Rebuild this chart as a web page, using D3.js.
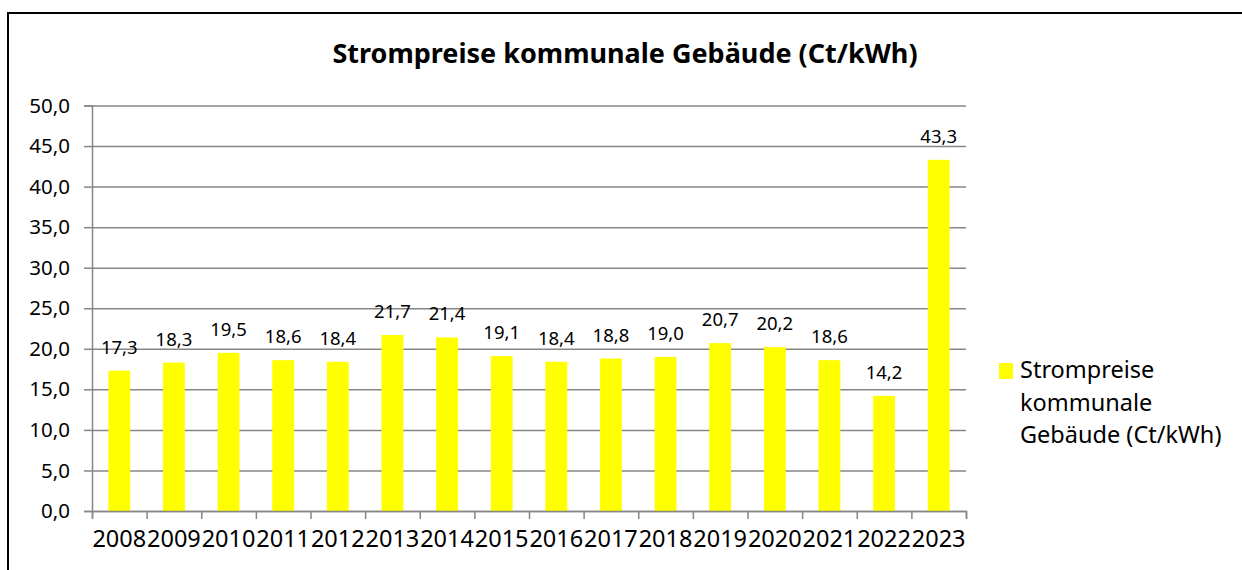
<!DOCTYPE html>
<html>
<head>
<meta charset="utf-8">
<script src="https://cdn.jsdelivr.net/npm/d3@7"></script>
<style>
  html, body { margin: 0; padding: 0; background: #fff; }
  svg { display: block; font-family: "Noto Sans", sans-serif; }
</style>
</head>
<body>
<svg id="chart"></svg>
<script>
// Daten
const jahre = ['2008','2009','2010','2011','2012','2013','2014','2015','2016','2017','2018','2019','2020','2021','2022','2023'];
const preise = [17.3, 18.3, 19.5, 18.6, 18.4, 21.7, 21.4, 19.1, 18.4, 18.8, 19.0, 20.7, 20.2, 18.6, 14.2, 43.3];
const yTicks = [0, 5, 10, 15, 20, 25, 30, 35, 40, 45, 50];
const titel = 'Strompreise kommunale Gebäude (Ct/kWh)';
const legendeZeilen = ['Strompreise', 'kommunale', 'Gebäude (Ct/kWh)'];

const width = 1242;
const height = 570;
const plotLeft = 92, plotRight = 966, plotTop = 105.5, plotBottom = 511;
const grau = '#868686';
const gelb = '#FFFF00';

const fmt = v => d3.format('.1f')(v).replace('.', ',');

const svg = d3.select('#chart')
  .attr('width', width)
  .attr('height', height);

// Rahmen
svg.append('rect')
  .attr('x', 8).attr('y', 13)
  .attr('width', 1300).attr('height', 700)
  .attr('fill', 'none')
  .attr('stroke', '#000')
  .attr('stroke-width', 2);

// Skalen
const x = d3.scaleBand()
  .domain(jahre)
  .range([plotLeft, plotRight])
  .paddingInner(0.6)
  .paddingOuter(0.3);

const xIdx = d3.scaleLinear()
  .domain([0, jahre.length])
  .range([plotLeft, plotRight]);

const y = d3.scaleLinear()
  .domain([0, 50])
  .range([plotBottom, plotTop]);

// Gitterlinien
svg.append('g')
  .attr('transform', `translate(${plotLeft}, 0)`)
  .call(d3.axisRight(y).tickValues(yTicks).tickSize(plotRight - plotLeft).tickFormat(''))
  .call(g => g.select('.domain').remove())
  .call(g => g.selectAll('line').attr('stroke', grau).attr('stroke-width', 1.5));

// Y-Achse
svg.append('g')
  .attr('transform', `translate(${plotLeft}, 0)`)
  .call(d3.axisLeft(y).tickValues(yTicks).tickSize(8).tickPadding(14).tickFormat(fmt))
  .call(g => g.select('.domain').attr('stroke', grau).attr('stroke-width', 1.5))
  .call(g => g.selectAll('line').attr('stroke', grau).attr('stroke-width', 1.5))
  .call(g => g.selectAll('text')
    .attr('font-size', 20.5)
    .attr('fill', '#000')
    .attr('font-family', '"Noto Sans", sans-serif'));

// Balken
svg.append('g')
  .selectAll('rect')
  .data(preise)
  .enter()
  .append('rect')
  .attr('x', (d, i) => x(jahre[i]))
  .attr('y', d => y(d))
  .attr('width', x.bandwidth())
  .attr('height', d => y(0) - y(d))
  .attr('fill', gelb);

// X-Achse (Striche an Kategoriegrenzen)
svg.append('g')
  .attr('transform', `translate(0, ${plotBottom})`)
  .call(d3.axisBottom(xIdx).tickValues(d3.range(jahre.length + 1)).tickSize(8).tickFormat(''))
  .call(g => g.select('.domain').attr('stroke', grau).attr('stroke-width', 1.5))
  .call(g => g.selectAll('line').attr('stroke', grau).attr('stroke-width', 1.5));

svg.append('g')
  .attr('transform', `translate(0, ${plotBottom})`)
  .call(d3.axisBottom(x).tickSize(0))
  .call(g => g.select('.domain').remove())
  .call(g => g.selectAll('text')
    .attr('y', 35.7)
    .attr('dy', 0)
    .attr('font-size', 23.5)
    .attr('fill', '#000')
    .attr('font-family', '"Noto Sans", sans-serif'));

// Datenbeschriftungen
svg.append('g')
  .selectAll('text')
  .data(preise)
  .enter()
  .append('text')
  .attr('x', (d, i) => x(jahre[i]) + x.bandwidth() / 2)
  .attr('y', d => y(d) - 17)
  .attr('text-anchor', 'middle')
  .attr('font-size', 18.5)
  .attr('fill', '#000')
  .text(d => fmt(d));

// Titel
svg.append('text')
  .attr('x', 625)
  .attr('y', 63)
  .attr('text-anchor', 'middle')
  .attr('font-size', 27)
  .attr('font-weight', 'bold')
  .attr('fill', '#000')
  .text(titel);

// Legende
const legende = svg.append('g');
legende.append('rect')
  .attr('x', 999).attr('y', 363)
  .attr('width', 14).attr('height', 16)
  .attr('fill', gelb);
legende.selectAll('text')
  .data(legendeZeilen)
  .enter()
  .append('text')
  .attr('x', 1020)
  .attr('y', (d, i) => 378 + i * 32.5)
  .attr('font-size', 23.5)
  .attr('fill', '#000')
  .text(d => d);
</script>
</body>
</html>
